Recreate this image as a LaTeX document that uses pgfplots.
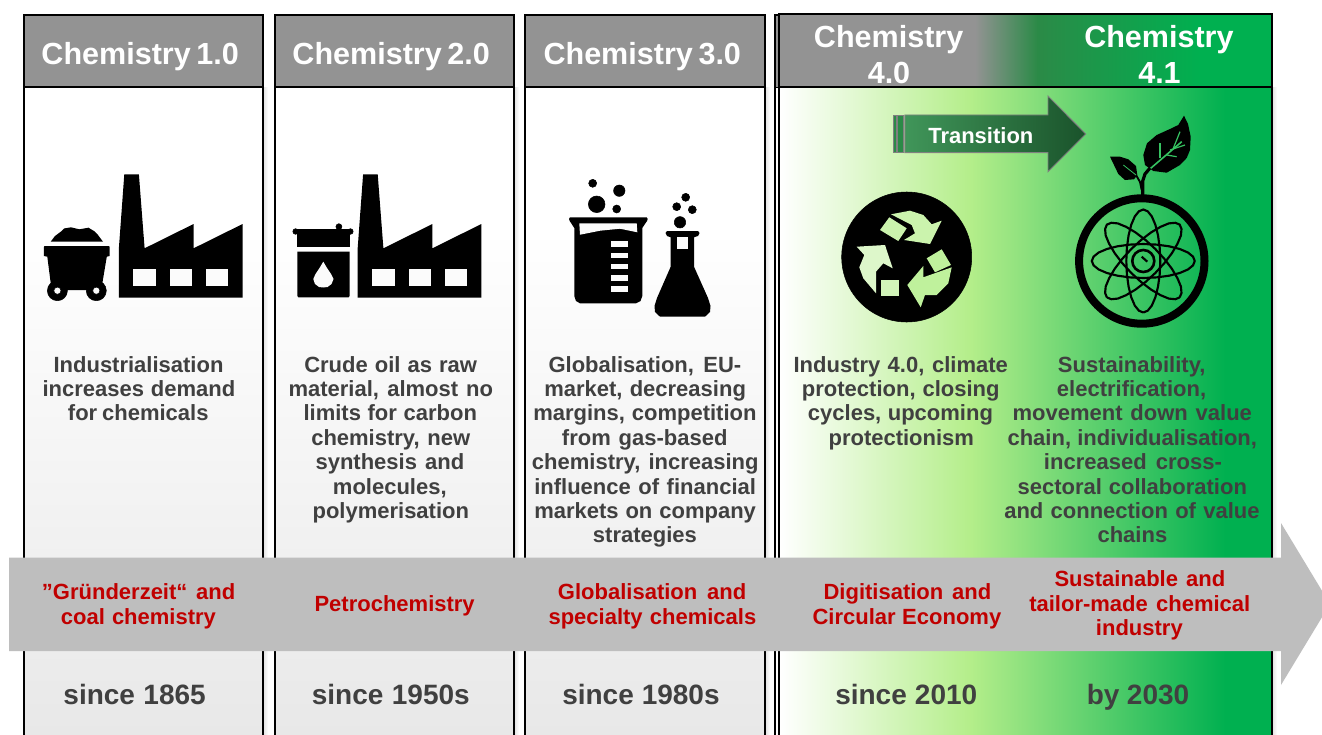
\documentclass[border=0pt]{standalone}
\usepackage{fontspec}
\setmainfont{Liberation Sans}
\usepackage{pgfplots}
\usepackage{pgfplotstable}
\pgfplotsset{compat=1.18}

\definecolor{hdr}{HTML}{939393}
\definecolor{band}{HTML}{BEBEBE}
\definecolor{txt}{HTML}{404040}
\definecolor{redtxt}{HTML}{C00000}
\definecolor{lgreen}{HTML}{B4EE8A}
\definecolor{mgreen}{HTML}{2B8A47}
\definecolor{dgreen}{HTML}{00B050}
\definecolor{win}{HTML}{FBFBFB}

% one atom orbit, flat (p q) and turned by 45 degrees (u v)
\pgfplotstableread{
p q u v
51.5 0 36.4 36.4
49.7 4.4 32.0 38.2
44.6 8.5 25.5 37.6
36.4 12 17.3 34.2
25.8 14.7 7.8 28.6
13.3 16.4 -2.2 21.0
0 17 -12 12
-13.3 16.4 -21 2.2
-25.8 14.7 -28.6 -7.8
-36.4 12 -34.2 -17.3
-44.6 8.5 -37.6 -25.5
-49.7 4.4 -38.2 -32
-51.5 0 -36.4 -36.4
-49.7 -4.4 -32 -38.2
-44.6 -8.5 -25.5 -37.6
-36.4 -12 -17.3 -34.2
-25.8 -14.7 -7.8 -28.6
-13.3 -16.4 2.2 -21
0 -17 12 -12
13.3 -16.4 21 -2.2
25.8 -14.7 28.6 7.8
36.4 -12 34.2 17.3
44.6 -8.5 37.6 25.5
49.7 -4.4 38.2 32
51.5 0 36.4 36.4
}\orbit

% factory outline, first copy
\pgfplotstableread{
x y
124.3 174.3
138.9 174.3
144.6 248.3
193.6 224
193.6 248.3
242.6 224
242.6 297.7
118.9 297.7
118.9 248
124.3 174.3
}\factory

% x1 y1 x2 y2, options
\newcommand\rect[5]{\addplot[#5] coordinates {(#1,#2) (#3,#2) (#3,#4) (#1,#4)} --cycle;}
% x y radius(px)
\newcommand\blob[4][black]{\addplot[only marks, mark=*, mark size={#4*0.75pt}, mark options={draw=none, fill=#1}] coordinates {(#2,#3)};}
\newcommand\ring[4]{\addplot[only marks, mark=o, mark size={#3*0.75pt}, mark options={draw=black, fill=none, line width={#4*0.75pt}}] coordinates {(#1,#2)};}
% colour size, then left edge, right edge, baseline, text: spaces stretch to the width
\newcommand\lbl[6]{\node[anchor=base west, inner sep=0pt, text=#1, font=\fontsize{#2}{#2}\selectfont\bfseries] at (axis cs:#3,#5) {\pgfmathsetlengthmacro\boxw{(#4-#3)*0.75pt}\makebox[\boxw][s]{#6}};}
\newcommand\tl[4]{\lbl{txt}{16.5}{#1}{#2}{#3}{#4}}
\newcommand\rl[4]{\lbl{redtxt}{16.5}{#1}{#2}{#3}{#4}}
\newcommand\dl[4]{\lbl{txt}{21}{#1}{#2}{#3}{#4}}
\newcommand\hl[4]{\lbl{white}{22.9}{#1}{#2}{#3}{#4}}

\begin{document}
\begin{tikzpicture}
\begin{axis}[
    scale only axis,
    width=991.5pt, height=551.25pt,
    xmin=0, xmax=1322, ymin=0, ymax=735,
    y dir=reverse,
    hide axis,
    clip mode=individual,
]
\rect{0}{0}{1322}{735}{fill=white, draw=none}

% grey columns: faint shadow, then body
\rect{263}{88}{268}{735}{left color=black!12, right color=white, draw=none}
\rect{514}{88}{519}{735}{left color=black!12, right color=white, draw=none}
\rect{765}{88}{770}{735}{left color=black!12, right color=white, draw=none}
\rect{1272}{88}{1277}{735}{left color=black!12, right color=white, draw=none}
\rect{24}{88}{263}{230}{fill=white, draw=none}
\rect{24}{229}{263}{735}{top color=white, bottom color=black!9, draw=none}
\rect{275}{88}{514}{230}{fill=white, draw=none}
\rect{275}{229}{514}{735}{top color=white, bottom color=black!9, draw=none}
\rect{525}{88}{765}{230}{fill=white, draw=none}
\rect{525}{229}{765}{735}{top color=white, bottom color=black!9, draw=none}

% green body
\rect{780}{88}{970.5}{735}{left color=white, right color=lgreen, draw=none}
\rect{970}{88}{1225.5}{735}{left color=lgreen, right color=dgreen, draw=none}
\rect{1225}{88}{1272}{735}{fill=dgreen, draw=none}

% headers
\rect{24}{15}{263}{87.5}{fill=hdr, draw=black, line width=1.5pt}
\rect{275}{15}{514}{87.5}{fill=hdr, draw=black, line width=1.5pt}
\rect{525}{15}{765}{87.5}{fill=hdr, draw=black, line width=1.5pt}
\rect{775}{15}{780}{87.5}{fill=hdr, draw=black, line width=1.2pt}
\rect{779}{14}{975.5}{87.5}{fill=hdr, draw=none}
\rect{975}{14}{1037.5}{87.5}{left color=hdr, right color=mgreen, draw=none}
\rect{1037}{14}{1200.5}{87.5}{left color=mgreen, right color=dgreen, draw=none}
\rect{1200}{14}{1272}{87.5}{fill=dgreen, draw=none}
\rect{779}{14}{1272}{87.5}{draw=black, line width=1.5pt}

% column outlines
\rect{24}{87.5}{263}{760}{draw=black, line width=1.4pt}
\rect{275}{87.5}{514}{760}{draw=black, line width=1.4pt}
\rect{525}{87.5}{765}{760}{draw=black, line width=1.4pt}
\rect{775}{87.5}{779.3}{760}{draw=black, line width=1.1pt}
\rect{779.3}{87.5}{1272}{760}{draw=black, line width=1.4pt}

% coal cart
\addplot[fill=black, draw=none] coordinates {(50.7,241.7) (55,236) (60.8,231.7) (64,228.5) (70.9,227.3) (79.4,229.3) (88.5,227.7) (94,231) (98,235) (103,241.7)} --cycle;
\addplot[fill=black, draw=none] coordinates {(44.5,246) (109,246) (109.5,247) (109.5,256) (106.8,256.7) (102.4,283) (96,290) (57,290) (50.7,283) (47.3,256.7) (43.9,256) (43.9,247)} --cycle;
\blob{57.4}{290.7}{10}
\blob{96.3}{290.7}{10}
\blob[win]{57.4}{290.7}{3.6}
\blob[win]{96.3}{290.7}{3.6}

% factories
\addplot[fill=black, draw=none] table[x=x, y=y] {\factory};
\rect{133.1}{269}{155.7}{285.7}{fill=win, draw=none}
\rect{169.9}{269}{191.9}{285.7}{fill=win, draw=none}
\rect{206}{269}{228.4}{285.7}{fill=win, draw=none}
\addplot[fill=black, draw=none] table[x expr=\thisrow{x}+238.8, y=y] {\factory};
\rect{371.9}{269}{394.5}{285.7}{fill=win, draw=none}
\rect{408.7}{269}{430.7}{285.7}{fill=win, draw=none}
\rect{444.8}{269}{467.2}{285.7}{fill=win, draw=none}

% barrel
\rect{295.5}{228.7}{350.5}{234.3}{fill=black, draw=none}
\blob{295.6}{231.5}{2.8}
\blob{350.4}{231.5}{2.8}
\rect{297.3}{234}{349.7}{247.3}{fill=black, draw=none}
\addplot[fill=black, draw=none] coordinates {(297.3,251.7) (349.7,251.7) (349.7,296) (348.5,297.3) (298.5,297.3) (297.3,296)} --cycle;
\blob{338.9}{226.7}{3}
\addplot[fill=win, draw=none] coordinates {(323.3,261.7) (327,268) (331,274) (333.5,279) (331.5,284) (327.5,287) (323.3,287.5) (319,287) (315,284) (313.3,279) (315.5,274) (319.5,268)} --cycle;

% beaker
\addplot[fill=black, draw=none] coordinates {(570,217.3) (646.7,217.3) (647.7,219) (647,221) (642.3,228) (642.3,296) (640.5,301) (636,303.3) (580,303.3) (576,301) (574.3,296) (574.3,228) (569.7,221) (569,219)} --cycle;
\addplot[fill=win, draw=none] coordinates {(579.3,223.3) (636.7,223.3) (637.3,232.3) (620,228.7) (600,230.7) (580,234.7)} --cycle;
\rect{611}{241.3}{628.3}{247.3}{fill=win, draw=none}
\rect{611}{252.7}{628.3}{258.3}{fill=win, draw=none}
\rect{611}{263.7}{628.3}{269.3}{fill=win, draw=none}
\rect{611}{275}{628.3}{280.7}{fill=win, draw=none}
\rect{611}{286}{628.3}{292}{fill=win, draw=none}
\blob{592.7}{183.3}{4}
\blob{619.3}{190.7}{5.7}
\blob{596.7}{204.3}{8.3}
\blob{616.7}{209}{4}

% flask
\addplot[fill=black, draw=none] coordinates {(667,231) (698,231) (699.5,233) (698,236) (694,237.3) (694,266.7) (708,298) (710.5,306) (710,312) (705,316.7) (660,316.7) (655,312) (654.5,306) (657,298) (670.7,266.7) (670.7,237.3) (667,236) (665.5,233)} --cycle;
\rect{676.7}{237.3}{688.3}{249.3}{fill=win, draw=none}
\blob{680}{222.3}{5.7}
\blob{676.7}{206.7}{4}
\blob{692.3}{209.7}{4}
\blob{685.7}{197.3}{4}

% recycling icon
\blob{906.7}{257}{65}
\addplot[fill=lgreen!70!white, draw=none] coordinates {(891,214.3) (910,210.7) (923.3,215) (931.7,224.3) (941.7,220.7) (930,244) (904,240) (915,233.3) (911.7,225)} --cycle;
\addplot[fill=lgreen!70!white, draw=none] coordinates {(889.3,217.3) (906.7,228.3) (898.3,241) (880,230)} --cycle;
\addplot[fill=lgreen!45!white, draw=none] coordinates {(856.7,246.7) (885,245) (892.7,268.3) (883.3,263.3) (876,271.7) (876,293.3) (863.3,278.3) (859.3,267.3) (864.3,255)} --cycle;
\rect{881}{280}{899.3}{295.7}{fill=lgreen!60!white, draw=none}
\addplot[fill=lgreen!85!white, draw=none] coordinates {(941.7,249.3) (951,265) (935,272.3) (926.7,258.3)} --cycle;
\addplot[fill=lgreen!85!white, draw=none] coordinates {(923.3,277.3) (951.7,267.3) (948.3,283.3) (936.7,295) (925,295) (920.7,307.3) (907.3,285) (923.3,266)} --cycle;

% atom with plant
\ring{1141.8}{261}{62.7}{8}
\addplot[draw=black, line width=1.6pt] table[x expr=\thisrow{p}+1143.3, y expr=\thisrow{q}+261] {\orbit};
\addplot[draw=black, line width=1.6pt] table[x expr=\thisrow{q}+1143.3, y expr=\thisrow{p}+261] {\orbit};
\addplot[draw=black, line width=1.6pt] table[x expr=\thisrow{u}+1143.3, y expr=\thisrow{v}+261] {\orbit};
\addplot[draw=black, line width=1.6pt] table[x expr=-\thisrow{u}+1143.3, y expr=\thisrow{v}+261] {\orbit};
\ring{1143.3}{261}{11}{2.6}
\addplot[draw=black, line width=1.6pt] coordinates {(1141.7,256.7) (1147.3,261.7)};
\addplot[fill=black, draw=none] coordinates {(1184,115.7) (1188,124) (1190.7,136.7) (1190,150) (1186.7,158) (1180,165) (1166.7,172.7) (1153.3,171) (1145,165) (1143.3,155) (1147,143.3) (1156.7,135) (1170,129) (1178.3,125)} --cycle;
\addplot[fill=black, draw=none] coordinates {(1110,156.7) (1120,156.7) (1128.3,159.3) (1136,166) (1137.3,175) (1134,179.3) (1125,180) (1118.3,174) (1114,165)} --cycle;
\addplot[draw=black, line width=2.4pt] coordinates {(1142.7,196) (1142.7,181) (1145,174) (1150,168)};
\addplot[draw=black, line width=1.4pt] coordinates {(1136,175) (1140,182) (1141.7,190)};
\addplot[draw=dgreen!70!lgreen, line width=1.2pt] coordinates {(1150.7,168.3) (1181.7,141.7)};
\addplot[draw=dgreen!70!lgreen, line width=0.9pt] coordinates {(1160,158.3) (1160,143.3)};
\addplot[draw=dgreen!70!lgreen, line width=0.9pt] coordinates {(1166.7,155) (1176.7,156.7)};
\addplot[draw=dgreen!70!lgreen, line width=0.9pt] coordinates {(1173.3,148.3) (1180,131.7)};
\addplot[draw=dgreen!70!lgreen, line width=0.9pt] coordinates {(1170,150) (1185,145)};
\addplot[draw=dgreen!70!lgreen, line width=0.6pt] coordinates {(1123.3,165) (1136,175)};

% transition arrow
\rect{893.2}{115}{896}{152.7}{fill=mgreen, draw=black!50, line width=0.6pt}
\rect{897.8}{115}{903.8}{152.7}{fill=mgreen, draw=black!50, line width=0.6pt}
\addplot[left color=mgreen!90!white, right color=mgreen!60!black, draw=black!50, line width=0.7pt] coordinates {(904.9,115) (1048,115) (1048,96) (1085.8,134) (1048,171.7) (1048,152.7) (904.9,152.7)} --cycle;
\lbl{white}{16.5}{928}{1034.5}{143}{Transition}

% grey arrow band
\addplot[fill=band, draw=none] coordinates {(9,557.5) (1281,557.5) (1281,523) (1330,604) (1281,685) (1281,651) (9,651)} --cycle;

% headers text
\hl{41.2}{238.2}{65}{Chemistry 1.0}
\hl{292.2}{489.2}{65}{Chemistry 2.0}
\hl{543.3}{740}{65}{Chemistry 3.0}
\hl{813.7}{962.6}{47.5}{Chemistry}
\hl{867.5}{909}{83.5}{4.0}
\hl{1084}{1233.4}{47.5}{Chemistry}
\hl{1138}{1176.7}{83.5}{4.1}

% body text
\tl{53.3}{222.3}{372}{Industrialisation}
\tl{42.3}{235}{396.5}{increases demand}
\tl{67.7}{208.3}{420.5}{for chemicals}

\tl{304}{476.7}{372}{Crude oil as raw}
\tl{288.3}{492.7}{396.5}{material, almost no}
\tl{303.3}{476.7}{420.5}{limits for carbon}
\tl{311}{470}{445}{chemistry, new}
\tl{315.3}{464}{469}{synthesis and}
\tl{332.7}{445}{494}{molecules,}
\tl{312.3}{466.7}{518.5}{polymerisation}

\tl{548.3}{741}{372}{Globalisation, EU-}
\tl{544}{745.7}{396.5}{market, decreasing}
\tl{533}{756.3}{420.5}{margins, competition}
\tl{561.7}{727.3}{445}{from gas-based}
\tl{531.7}{758.3}{469}{chemistry, increasing}
\tl{534}{755.7}{494}{influence of financial}
\tl{534}{755.7}{518.5}{markets on company}
\tl{592.7}{696.7}{542}{strategies}

\tl{793.3}{1007.7}{372}{Industry 4.0, climate}
\tl{801.7}{999.3}{396.5}{protection, closing}
\tl{807.7}{992.7}{420.5}{cycles, upcoming}
\tl{828.3}{974}{445}{protectionism}

\tl{1057.7}{1205}{372}{Sustainability,}
\tl{1056.7}{1205.7}{396.5}{electrification,}
\tl{1012.3}{1251.7}{420.5}{movement down value}
\tl{1007.3}{1256.7}{445}{chain, individualisation,}
\tl{1043.7}{1221.7}{469}{increased cross-}
\tl{1017.3}{1246.7}{494}{sectoral collaboration}
\tl{1004}{1259.3}{518.5}{and connection of value}
\tl{1097.3}{1166}{542}{chains}

% band text
\rl{41.7}{235}{599}{”Gründerzeit“ and}
\rl{60.7}{215.7}{624}{coal chemistry}
\rl{314.3}{475.7}{611}{Petrochemistry}
\rl{557.7}{746}{599}{Globalisation and}
\rl{548.3}{756}{624}{specialty chemicals}
\rl{823.3}{991}{599}{Digitisation and}
\rl{812.3}{1001}{624}{Circular Economy}
\rl{1054.3}{1225}{586}{Sustainable and}
\rl{1029}{1250}{611}{tailor-made chemical}
\rl{1095.7}{1182.3}{635}{industry}

% dates
\dl{63.2}{205.5}{704}{since 1865}
\dl{311.6}{469.5}{704}{since 1950s}
\dl{562}{719.4}{704}{since 1980s}
\dl{835}{977}{704}{since 2010}
\dl{1086.5}{1189}{704}{by 2030}
\end{axis}
\end{tikzpicture}
\end{document}
